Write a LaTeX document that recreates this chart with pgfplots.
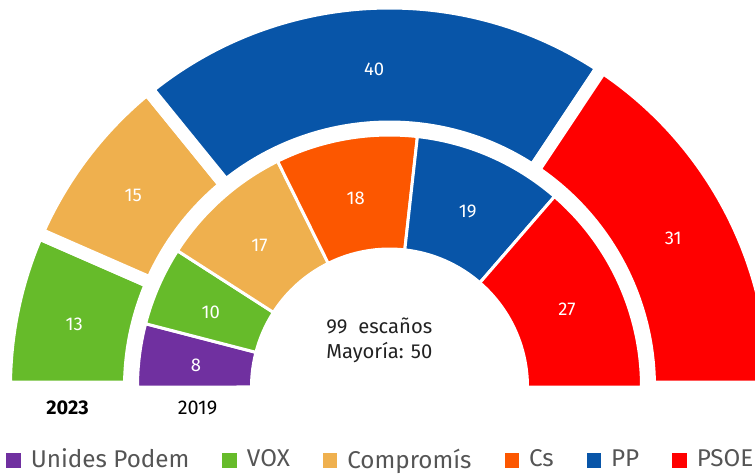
\documentclass[border=0pt]{standalone}
\usepackage{pgfplots}
\pgfplotsset{compat=1.18}
\usepackage{fontspec}
\setmainfont{Fira Sans}
\definecolor{cUP}{HTML}{7030A0}
\definecolor{cVOX}{HTML}{66BB2A}
\definecolor{cCOM}{HTML}{EFB04E}
\definecolor{cCS}{HTML}{FC5700}
\definecolor{cPP}{HTML}{0855A8}
\definecolor{cPSOE}{HTML}{FF0000}
\definecolor{leggray}{HTML}{555555}
\definecolor{textdark}{HTML}{222222}

\tikzset{seglabel/.style={text=white, font=\fontsize{10.5}{12}\selectfont, inner sep=0pt}}

% ring: inner radius, outer radius (geometric, in axis units), white border width (cm)
\newcommand\ring[3]{\gdef\rI{#1}\gdef\rO{#2}\gdef\gapw{#3}\gdef\cum{0}}
% seg: seats, colour
\newcommand\seg[2]{%
  \pgfmathsetmacro\aA{180-\cum/99*180}%
  \pgfmathsetmacro\cumB{\cum+#1}%
  \pgfmathsetmacro\aB{180-\cumB/99*180}%
  \pgfmathsetmacro\am{(\aA+\aB)/2}%
  \pgfmathsetmacro\rMid{(\rI+\rO)/2}%
  \edef\doit{%
    \noexpand\fill[#2, draw=white, line width=\gapw cm]
      (axis cs:{\rO*cos(\aA)},{\rO*sin(\aA)})
      arc[start angle=\aA, end angle=\aB, radius=\rO]
      -- (axis cs:{\rI*cos(\aB)},{\rI*sin(\aB)})
      arc[start angle=\aB, end angle=\aA, radius=\rI] -- cycle;
    \noexpand\node[seglabel, yshift=-0.07cm] at (axis cs:{\rMid*cos(\am)},{\rMid*sin(\am)}) {#1};}%
  \doit
  \xdef\cum{\cumB}}

\begin{document}
\begin{tikzpicture}
\begin{axis}[
  x=1cm, y=1cm,
  xmin=-7.79, xmax=7.31, ymin=-1.74, ymax=7.74,
  hide axis, clip=true,
  legend columns=6,
  legend image code/.code={\fill[#1] (0cm,-0.16cm) rectangle (0.29cm,0.14cm);},
  legend style={at={(0.008,0.006)}, anchor=south west, draw=none, fill=none,
    inner sep=0pt, font=\fontsize{13.8}{16}\selectfont\color{leggray},
    nodes={inner sep=0pt},
    /tikz/every odd column/.append style={column sep=0.2cm},
    /tikz/every even column/.append style={column sep=0.66cm}},
]
% 2023 (outer ring)
\ring{5.20}{7.68}{0.26}
\seg{13}{cVOX}
\seg{15}{cCOM}
\seg{40}{cPP}
\seg{31}{cPSOE}
% 2019 (inner ring)
\ring{2.76}{5.04}{0.06}
\seg{8}{cUP}
\seg{10}{cVOX}
\seg{17}{cCOM}
\seg{18}{cCS}
\seg{19}{cPP}
\seg{27}{cPSOE}

\node[font=\fontsize{11.3}{13}\selectfont\bfseries] at (axis cs:-6.44,-0.42) {2023};
\node[font=\fontsize{11.3}{13}\selectfont] at (axis cs:-3.84,-0.42) {2019};
\node[align=left, anchor=west, inner sep=0pt, font=\fontsize{11.5}{14.2}\selectfont, text=textdark]
  at (axis cs:-1.27,0.93) {99\ \ escaños\\Mayoría: 50};

\addlegendimage{fill=cUP, draw=none}\addlegendentry{Unides Podem}
\addlegendimage{fill=cVOX, draw=none}\addlegendentry{VOX}
\addlegendimage{fill=cCOM, draw=none}\addlegendentry{Compromís}
\addlegendimage{fill=cCS, draw=none}\addlegendentry{Cs}
\addlegendimage{fill=cPP, draw=none}\addlegendentry{PP}
\addlegendimage{fill=cPSOE, draw=none}\addlegendentry{PSOE}
\end{axis}
\pgfresetboundingbox
\path (current axis.south west) rectangle (current axis.north east);
\end{tikzpicture}
\end{document}
